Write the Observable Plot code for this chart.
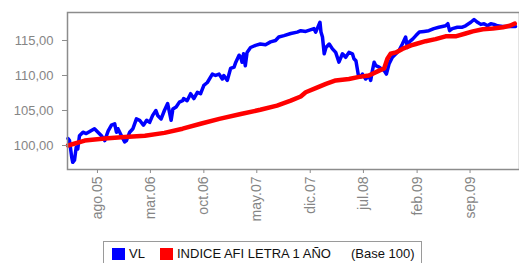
<!DOCTYPE html>
<html>
<head>
<meta charset="utf-8">
<script src="https://cdn.jsdelivr.net/npm/d3@7"></script>
<script src="https://cdn.jsdelivr.net/npm/@observablehq/plot@0.6"></script>
<style>
  html, body { margin: 0; padding: 0; background: #fff; }
  #wrap { position: relative; width: 519px; height: 263px; overflow: hidden; font-family: "Liberation Sans", Arial, sans-serif; }
  #legend { position: absolute; left: 103px; top: 241px; width: 319px; height: 40px; border: 1px solid #9a9a9a; box-sizing: border-box; font-size: 13px; color: #111; }
  #legend .it { position: absolute; top: 4px; height: 16px; line-height: 16px; display: flex; align-items: center; white-space: nowrap; }
  #legend .sw { width: 13px; height: 12px; display: inline-block; margin-right: 4px; }
</style>
</head>
<body>
<div id="wrap"><div id="chart"></div><div id="legend"></div></div>
<script>
// Series: VL (blue)
const vlDates = ["2005-04-05","2005-04-11","2005-04-20","2005-04-24","2005-05-01","2005-05-08","2005-05-14","2005-05-21","2005-06-04","2005-06-17","2005-07-01","2005-07-20","2005-08-03","2005-08-17","2005-08-30","2005-09-13","2005-09-26","2005-10-09","2005-10-16","2005-10-22","2005-11-05","2005-11-18","2005-11-25","2005-12-08","2005-12-21","2006-01-04","2006-01-17","2006-02-01","2006-02-14","2006-02-26","2006-03-10","2006-03-23","2006-03-30","2006-04-13","2006-04-26","2006-05-09","2006-05-23","2006-05-30","2006-06-12","2006-06-25","2006-07-08","2006-07-12","2006-07-26","2006-08-09","2006-08-22","2006-09-05","2006-09-18","2006-10-01","2006-10-15","2006-11-04","2006-11-17","2006-12-01","2006-12-14","2006-12-20","2007-01-03","2007-01-16","2007-01-30","2007-02-06","2007-02-19","2007-02-26","2007-03-03","2007-03-09","2007-03-16","2007-03-23","2007-04-06","2007-04-26","2007-05-15","2007-06-05","2007-06-25","2007-07-15","2007-07-28","2007-08-18","2007-09-14","2007-10-10","2007-10-24","2007-11-13","2007-12-16","2007-12-23","2007-12-29","2008-01-09","2008-01-13","2008-01-19","2008-01-26","2008-02-02","2008-02-15","2008-02-28","2008-03-12","2008-03-25","2008-04-08","2008-04-21","2008-05-04","2008-05-18","2008-05-24","2008-06-01","2008-06-11","2008-06-20","2008-06-27","2008-07-10","2008-07-23","2008-07-30","2008-08-06","2008-08-13","2008-08-20","2008-09-02","2008-09-22","2008-10-01","2008-10-12","2008-10-25","2008-11-08","2008-11-21","2008-12-04","2008-12-17","2008-12-24","2009-01-01","2009-01-14","2009-01-27","2009-02-10","2009-03-01","2009-03-20","2009-04-09","2009-04-29","2009-05-13","2009-05-26","2009-06-04","2009-06-11","2009-06-22","2009-07-12","2009-08-01","2009-08-14","2009-09-04","2009-09-17","2009-10-01","2009-10-14","2009-10-27","2009-11-10","2009-11-23","2009-12-06","2009-12-20","2010-01-09","2010-02-05","2010-03-02"];
const vlValues = [101.0,100.7,98.3,97.6,97.9,99.8,99.5,101.4,101.9,101.7,102.0,102.4,101.9,101.4,100.7,102.1,102.9,103.1,101.9,102.4,101.4,100.5,100.7,101.9,102.4,103.8,103.6,102.9,103.6,103.3,104.3,105.0,104.3,103.8,105.0,106.0,103.6,105.2,105.5,106.2,106.4,106.7,106.4,107.4,106.7,107.6,107.4,108.6,109.0,110.2,110.0,110.2,109.5,110.0,109.3,111.0,111.2,111.9,112.9,112.6,111.9,113.1,111.4,113.3,114.0,114.3,114.5,114.4,114.8,115.0,115.5,115.7,116.0,116.2,116.4,116.3,116.7,116.2,116.7,117.6,116.2,115.5,113.1,114.0,114.5,113.8,113.3,111.9,113.1,112.6,113.3,113.1,112.4,112.1,110.0,109.8,110.2,109.5,110.0,109.3,110.7,111.9,111.4,111.2,110.7,110.2,111.7,112.6,113.1,113.6,114.5,115.5,114.0,114.8,115.2,115.7,116.2,116.3,116.4,116.7,116.9,117.0,117.1,117.4,116.4,116.7,116.9,116.9,117.1,117.6,118.0,117.6,117.3,117.4,117.1,117.4,117.3,117.1,117.0,117.0,117.0];

// Series: INDICE AFI LETRA 1 AÑO (red)
const idxDates = ["2005-04-05","2005-06-11","2005-08-30","2005-11-18","2006-02-07","2006-04-26","2006-07-08","2006-09-18","2006-12-02","2007-02-26","2007-05-15","2007-07-21","2007-09-14","2007-10-24","2007-11-13","2007-12-23","2008-02-02","2008-03-12","2008-05-04","2008-06-14","2008-07-23","2008-09-02","2008-09-22","2008-10-05","2008-10-18","2008-11-08","2008-12-04","2009-01-08","2009-01-27","2009-03-07","2009-04-16","2009-05-26","2009-07-05","2009-08-14","2009-09-12","2009-10-22","2009-12-01","2010-01-11","2010-02-07","2010-02-27"];
const idxValues = [100.0,100.7,101.0,101.2,101.4,101.8,102.4,103.1,103.8,104.5,105.1,105.7,106.4,107.0,107.6,108.2,108.8,109.3,109.5,109.8,110.0,110.7,111.0,112.4,113.1,113.3,113.8,114.3,114.5,114.9,115.2,115.6,115.6,116.0,116.3,116.6,116.7,116.9,117.1,117.4];

const yTicks = [100, 105, 110, 115];
const xTickDates = ["2005-08-01","2006-03-01","2006-10-01","2007-05-01","2007-12-01","2008-07-01","2009-02-01","2009-09-01"];
const xTickLabels = ["ago.05","mar.06","oct.06","may.07","dic.07","jul.08","feb.09","sep.09"];
const seriesNames = ["VL", "INDICE AFI LETRA 1 AÑO"];
const seriesColors = ["#0000ff", "#ff0000"];
const legendNote = "(Base 100)";

const vl = vlDates.map((d, i) => ({date: new Date(d), value: vlValues[i]}));
const idx = idxDates.map((d, i) => ({date: new Date(d), value: idxValues[i]}));
const xt = xTickDates.map(d => new Date(d));
const labelMap = new Map(xt.map((d, i) => [+d, xTickLabels[i]]));

const chart = Plot.plot({
  width: 519,
  height: 235,
  marginLeft: 67,
  marginRight: 0,
  marginTop: 12,
  marginBottom: 66,
  style: {fontFamily: "'Liberation Sans', Arial, sans-serif", background: "#fff"},
  x: {type: "utc", domain: [new Date("2005-04-03"), new Date("2010-03-18")]},
  y: {domain: [96.57, 119.0]},
  marks: [
    Plot.line(vl, {x: "date", y: "value", stroke: seriesColors[0], strokeWidth: 3.5, strokeLinejoin: "round"}),
    Plot.line(idx, {x: "date", y: "value", stroke: seriesColors[1], strokeWidth: 4.5, strokeLinejoin: "round"}),
    Plot.frame({stroke: "#8c8c8c", strokeWidth: 1.5}),
    Plot.axisY(yTicks, {tickSize: 5, tickPadding: 9, fontSize: 13, fill: "#858585", stroke: "#8c8c8c",
      tickFormat: d => d.toFixed(2).replace(".", ","), label: null}),
    Plot.axisX(xt, {tickSize: 4, tickPadding: 3, tickRotate: -90, fontSize: 14, fill: "#858585", stroke: "#8c8c8c",
      tickFormat: d => labelMap.get(+d), label: null})
  ]
});
document.getElementById("chart").appendChild(chart);

const legend = document.getElementById("legend");
const items = [
  {left: 8, html: `<span class="sw" style="background:${seriesColors[0]}"></span>${seriesNames[0]}`},
  {left: 56, html: `<span class="sw" style="background:${seriesColors[1]}"></span>${seriesNames[1]}`},
  {left: 247, html: legendNote}
];
for (const it of items) {
  const s = document.createElement("div");
  s.className = "it";
  s.style.left = it.left + "px";
  s.innerHTML = it.html;
  legend.appendChild(s);
}
</script>
</body>
</html>
